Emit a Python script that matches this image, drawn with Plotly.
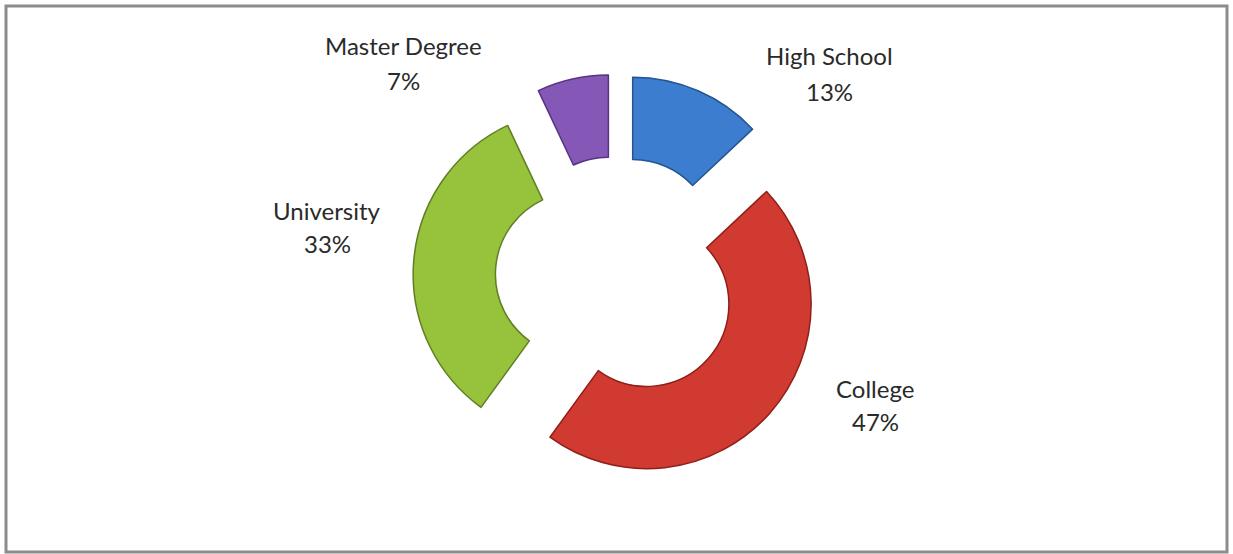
import plotly.graph_objects as go

# Education level breakdown
categories = ["High School", "College", "University", "Master Degree"]
shares = [13, 47, 33, 7]
colors = ["#3d7dd0", "#d03a30", "#97c23c", "#8557b6"]
edge_colors = ["#24558f", "#8e2019", "#5f7f22", "#553481"]

W, H = 1233, 554

fig = go.Figure()

# Exploded doughnut, starting at 12 o'clock and running clockwise
cx, cy, box = 617, 278, 204
fig.add_trace(go.Pie(
    labels=categories,
    values=shares,
    hole=0.5,
    pull=[0.24] * len(shares),
    sort=False,
    direction="clockwise",
    rotation=0,
    textinfo="none",
    hoverinfo="label+percent",
    marker=dict(colors=colors, line=dict(color=edge_colors, width=1.5)),
    domain=dict(x=[(cx - box) / W, (cx + box) / W],
                y=[1 - (cy + box) / H, 1 - (cy - box) / H]),
    showlegend=False,
))

# Category labels placed around the ring: centre x, name line y, percent line y (pixels)
label_lines = {
    "High School": (829, 56, 91),
    "College": (875, 388, 422),
    "University": (327, 210, 243),
    "Master Degree": (403, 46, 80),
}
label_font = dict(family="Lato, Carlito, Calibri, sans-serif", size=24, color="#2a2a2a")
for name, val in zip(categories, shares):
    px, y_name, y_pct = label_lines[name]
    for txt, py in ((name, y_name), (f"{val}%", y_pct)):
        fig.add_annotation(
            x=px / W, y=1 - py / H, xref="paper", yref="paper",
            text=txt, showarrow=False,
            xanchor="center", yanchor="middle", align="center",
            font=label_font,
        )

# Chart area frame
fig.add_shape(
    type="rect", xref="paper", yref="paper",
    x0=6 / W, x1=1227 / W, y0=1 - 552 / H, y1=1 - 6 / H,
    line=dict(color="#8c8c8c", width=3), fillcolor="rgba(0,0,0,0)",
)

fig.update_layout(
    width=W, height=H,
    margin=dict(l=0, r=0, t=0, b=0),
    paper_bgcolor="white", plot_bgcolor="white",
)

fig.write_html("out.html")
